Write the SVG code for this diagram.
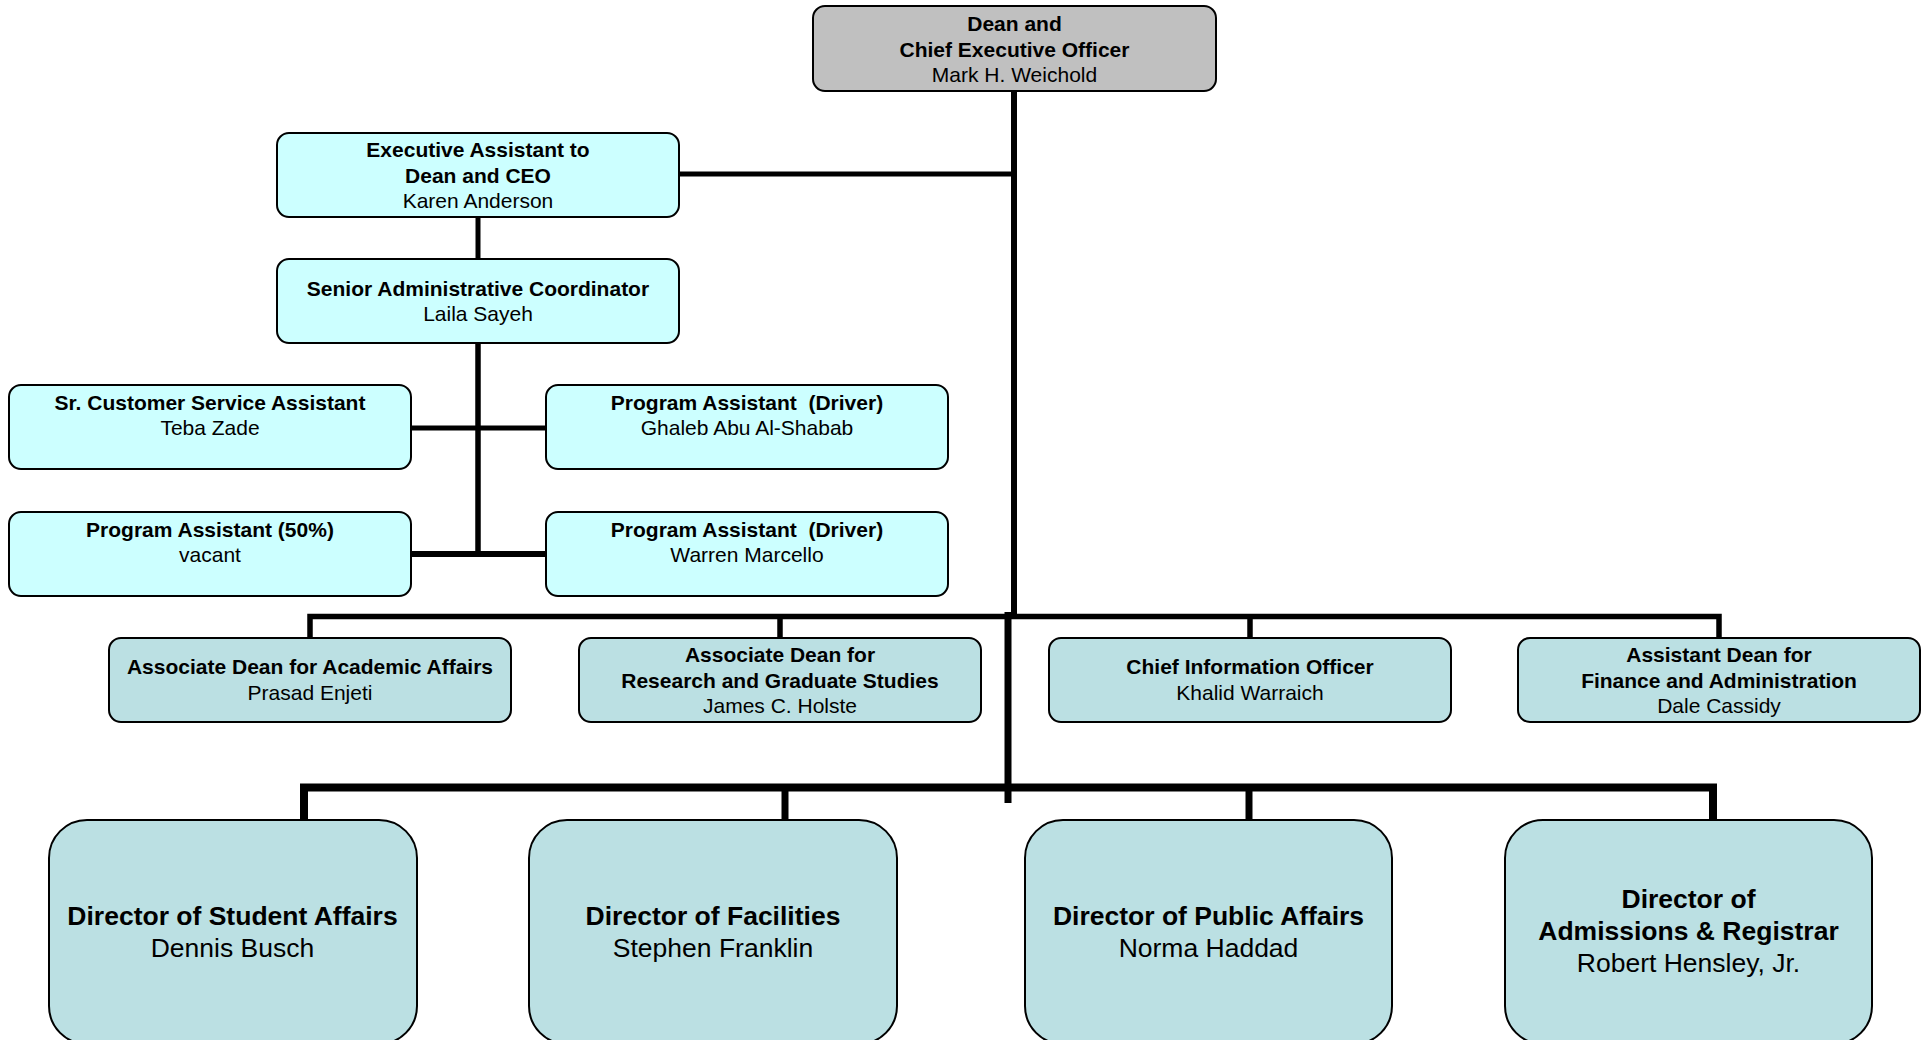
<svg xmlns="http://www.w3.org/2000/svg" width="1923" height="1040" viewBox="0 0 1923 1040">
<style>
text{font-family:"Liberation Sans",Arial,sans-serif;font-size:21px;fill:#000;text-anchor:middle}
.b{font-weight:bold}
.L{font-size:26.5px}
.box{stroke:#000;stroke-width:2}
.gray{fill:#C0C0C0}
.cyan{fill:#CCFFFF}
.teal{fill:#BBE0E3}
.c{stroke:#000;fill:none;stroke-linecap:butt}
</style>
<rect width="1923" height="1040" fill="#fff"/>
<g id="connectors">
<line class="c" x1="1014" y1="90" x2="1014" y2="617" stroke-width="6"/>
<line class="c" x1="679" y1="174" x2="1014" y2="174" stroke-width="5"/>
<line class="c" x1="478" y1="217" x2="478" y2="259" stroke-width="5"/>
<line class="c" x1="478" y1="343" x2="478" y2="557" stroke-width="5.5"/>
<line class="c" x1="411" y1="428" x2="546" y2="428" stroke-width="5"/>
<line class="c" x1="411" y1="554" x2="546" y2="554" stroke-width="6"/>
<path class="c" d="M310 638 V616.5 H1719 V638" stroke-width="5.5"/>
<line class="c" x1="780" y1="616" x2="780" y2="638" stroke-width="5.5"/>
<line class="c" x1="1250" y1="616" x2="1250" y2="638" stroke-width="5.5"/>
<line class="c" x1="1008" y1="612" x2="1008" y2="803" stroke-width="7"/>
<path class="c" d="M304 820 V787.5 H1713 V820" stroke-width="8"/>
<line class="c" x1="785" y1="787" x2="785" y2="820" stroke-width="7"/>
<line class="c" x1="1249" y1="787" x2="1249" y2="820" stroke-width="7"/>
</g>
<g id="dean">
<rect class="box gray" x="813" y="6" width="403" height="85" rx="12"/>
<text class="b" x="1014.5" y="31">Dean and</text>
<text class="b" x="1014.5" y="57">Chief Executive Officer</text>
<text x="1014.5" y="82">Mark H. Weichold</text>
</g>
<g id="exec-assistant">
<rect class="box cyan" x="277" y="133" width="402" height="84" rx="12"/>
<text class="b" x="478" y="157">Executive Assistant to</text>
<text class="b" x="478" y="183">Dean and CEO</text>
<text x="478" y="208">Karen Anderson</text>
</g>
<g id="senior-admin">
<rect class="box cyan" x="277" y="259" width="402" height="84" rx="12"/>
<text class="b" x="478" y="296">Senior Administrative Coordinator</text>
<text x="478" y="321">Laila Sayeh</text>
</g>
<g id="customer-service">
<rect class="box cyan" x="9" y="385" width="402" height="84" rx="12"/>
<text class="b" x="210" y="410">Sr. Customer Service Assistant</text>
<text x="210" y="435">Teba Zade</text>
</g>
<g id="driver-ghaleb">
<rect class="box cyan" x="546" y="385" width="402" height="84" rx="12"/>
<text class="b" x="747" y="410" xml:space="preserve">Program Assistant  (Driver)</text>
<text x="747" y="435">Ghaleb Abu Al-Shabab</text>
</g>
<g id="program-assistant-50">
<rect class="box cyan" x="9" y="512" width="402" height="84" rx="12"/>
<text class="b" x="210" y="537">Program Assistant (50%)</text>
<text x="210" y="562">vacant</text>
</g>
<g id="driver-warren">
<rect class="box cyan" x="546" y="512" width="402" height="84" rx="12"/>
<text class="b" x="747" y="537" xml:space="preserve">Program Assistant  (Driver)</text>
<text x="747" y="562">Warren Marcello</text>
</g>
<g id="assoc-academic">
<rect class="box teal" x="109" y="638" width="402" height="84" rx="12"/>
<text class="b" x="310" y="674">Associate Dean for Academic Affairs</text>
<text x="310" y="700">Prasad Enjeti</text>
</g>
<g id="assoc-research">
<rect class="box teal" x="579" y="638" width="402" height="84" rx="12"/>
<text class="b" x="780" y="662">Associate Dean for</text>
<text class="b" x="780" y="688">Research and Graduate Studies</text>
<text x="780" y="713">James C. Holste</text>
</g>
<g id="cio">
<rect class="box teal" x="1049" y="638" width="402" height="84" rx="12"/>
<text class="b" x="1250" y="674">Chief Information Officer</text>
<text x="1250" y="700">Khalid Warraich</text>
</g>
<g id="assistant-dean-finance">
<rect class="box teal" x="1518" y="638" width="402" height="84" rx="12"/>
<text class="b" x="1719" y="662">Assistant Dean for</text>
<text class="b" x="1719" y="688">Finance and Administration</text>
<text x="1719" y="713">Dale Cassidy</text>
</g>
<g id="student-affairs">
<rect class="box teal" x="49" y="820" width="368" height="224" rx="38"/>
<text class="b L" x="232.5" y="925">Director of Student Affairs</text>
<text class="L" x="232.5" y="957">Dennis Busch</text>
</g>
<g id="facilities">
<rect class="box teal" x="529" y="820" width="368" height="224" rx="38"/>
<text class="b L" x="713" y="925">Director of Facilities</text>
<text class="L" x="713" y="957">Stephen Franklin</text>
</g>
<g id="public-affairs">
<rect class="box teal" x="1025" y="820" width="367" height="224" rx="38"/>
<text class="b L" x="1208.5" y="925">Director of Public Affairs</text>
<text class="L" x="1208.5" y="957">Norma Haddad</text>
</g>
<g id="admissions">
<rect class="box teal" x="1505" y="820" width="367" height="224" rx="38"/>
<text class="b L" x="1688.5" y="908">Director of</text>
<text class="b L" x="1688.5" y="940">Admissions &amp; Registrar</text>
<text class="L" x="1688.5" y="972">Robert Hensley, Jr.</text>
</g>
</svg>
